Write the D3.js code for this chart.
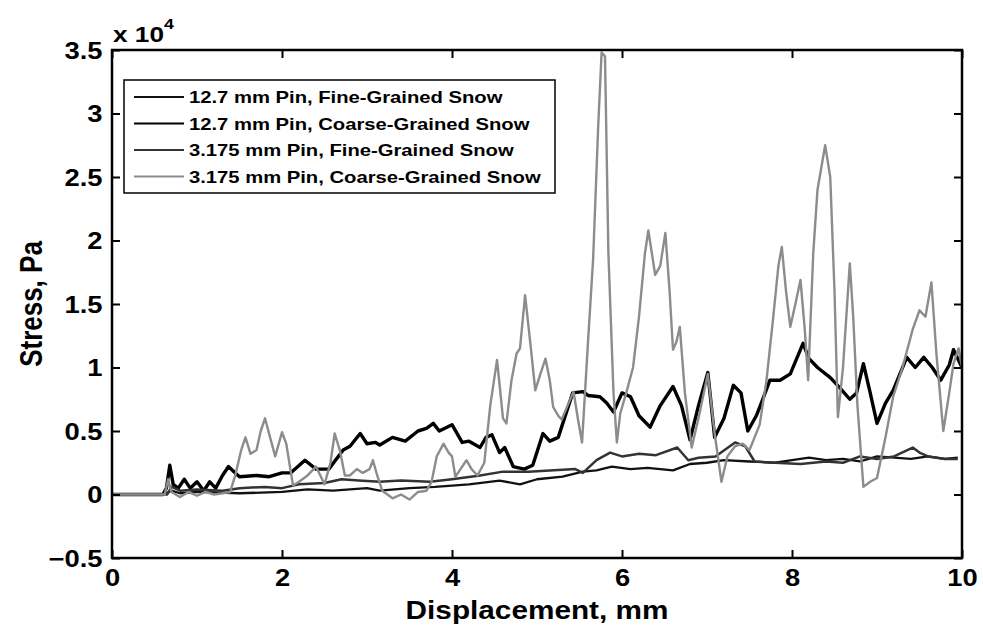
<!DOCTYPE html>
<meta charset="utf-8">
<body style="margin:0;background:#fff">
<script src="https://d3js.org/d3.v7.min.js"></script>
<script>

  // displacement (mm), stress (x 10^4 Pa)
  let fine127 = [[0,0],[0.6,0],[0.7,0.03],[0.8,0.01],[1.0,0.02],[1.5,0.01],[2.0,0.02],[2.3,0.04],[2.6,0.03],[3.0,0.05],[3.15,0.03],[3.5,0.05],[3.8,0.06],[4.2,0.08],[4.56,0.11],[4.8,0.08],[5.0,0.12],[5.3,0.14],[5.54,0.18],[5.7,0.19],[5.88,0.22],[6.1,0.2],[6.3,0.21],[6.6,0.19],[6.8,0.24],[7.0,0.25],[7.2,0.27],[7.5,0.26],[7.8,0.25],[8.0,0.27],[8.2,0.29],[8.4,0.27],[8.6,0.28],[8.8,0.26],[9.0,0.3],[9.2,0.29],[9.4,0.28],[9.6,0.3],[9.8,0.28],[9.95,0.29]];

  let coarse127 = [[0,0],[0.6,0],[0.64,0.05],[0.68,0.23],[0.72,0.08],[0.78,0.05],[0.85,0.12],[0.92,0.05],[1.0,0.1],[1.08,0.03],[1.15,0.1],[1.22,0.05],[1.3,0.15],[1.37,0.22],[1.45,0.17],[1.5,0.14],[1.7,0.15],[1.85,0.14],[2.0,0.17],[2.1,0.17],[2.27,0.27],[2.4,0.2],[2.55,0.2],[2.72,0.35],[2.8,0.38],[2.92,0.48],[3.0,0.4],[3.1,0.41],[3.15,0.39],[3.3,0.45],[3.45,0.42],[3.6,0.5],[3.7,0.52],[3.78,0.56],[3.85,0.5],[4.0,0.55],[4.12,0.41],[4.2,0.42],[4.33,0.37],[4.4,0.45],[4.47,0.47],[4.56,0.33],[4.62,0.37],[4.72,0.22],[4.85,0.2],[4.95,0.23],[5.07,0.48],[5.15,0.42],[5.25,0.45],[5.42,0.8],[5.54,0.81],[5.6,0.78],[5.74,0.77],[5.82,0.72],[5.9,0.65],[6.0,0.8],[6.1,0.77],[6.2,0.62],[6.33,0.53],[6.45,0.7],[6.6,0.85],[6.7,0.7],[6.8,0.43],[6.9,0.7],[7.01,0.96],[7.09,0.45],[7.2,0.6],[7.31,0.86],[7.4,0.8],[7.48,0.5],[7.58,0.62],[7.65,0.74],[7.74,0.9],[7.86,0.9],[7.98,0.95],[8.13,1.19],[8.2,1.07],[8.3,1.0],[8.45,0.92],[8.55,0.85],[8.68,0.75],[8.76,0.8],[8.84,1.03],[8.92,0.8],[9.0,0.56],[9.1,0.72],[9.19,0.82],[9.35,1.08],[9.45,1.0],[9.55,1.08],[9.65,1.0],[9.75,0.9],[9.85,1.02],[9.9,1.14],[10,1.0]];

  let fine3175 = [[0,0],[0.65,0],[0.7,0.06],[0.8,0.03],[1.0,0.04],[1.3,0.03],[1.5,0.05],[1.8,0.06],[2.0,0.05],[2.2,0.08],[2.5,0.09],[2.7,0.12],[2.9,0.11],[3.15,0.1],[3.4,0.11],[3.74,0.1],[4.0,0.12],[4.33,0.15],[4.6,0.18],[4.9,0.18],[5.2,0.19],[5.45,0.2],[5.54,0.17],[5.7,0.27],[5.86,0.33],[6.0,0.3],[6.2,0.32],[6.4,0.31],[6.65,0.37],[6.78,0.27],[6.9,0.29],[7.1,0.3],[7.33,0.41],[7.45,0.38],[7.56,0.26],[7.8,0.25],[8.1,0.24],[8.4,0.26],[8.6,0.25],[8.8,0.3],[9.0,0.28],[9.2,0.3],[9.42,0.37],[9.5,0.33],[9.6,0.3],[9.8,0.28],[9.95,0.28]];

  let coarse3175 = [[0,0],[0.62,0],[0.66,0.12],[0.7,0.02],[0.8,-0.02],[0.9,0.02],[1.0,-0.01],[1.1,0.02],[1.2,0],[1.3,0.01],[1.39,0.02],[1.45,0.15],[1.52,0.35],[1.57,0.45],[1.63,0.32],[1.7,0.35],[1.75,0.5],[1.8,0.6],[1.86,0.45],[1.92,0.3],[2.0,0.49],[2.05,0.4],[2.13,0.07],[2.2,0.1],[2.3,0.15],[2.4,0.22],[2.5,0.08],[2.57,0.25],[2.62,0.48],[2.68,0.35],[2.74,0.15],[2.8,0.15],[2.88,0.2],[2.95,0.17],[3.03,0.2],[3.07,0.27],[3.12,0.15],[3.18,0.03],[3.3,-0.03],[3.4,0],[3.5,-0.04],[3.6,0.02],[3.7,0.03],[3.76,0.1],[3.82,0.3],[3.9,0.4],[3.96,0.33],[4.0,0.3],[4.04,0.14],[4.1,0.2],[4.17,0.27],[4.23,0.2],[4.3,0.15],[4.38,0.25],[4.45,0.7],[4.53,1.06],[4.6,0.6],[4.64,0.56],[4.7,0.9],[4.76,1.11],[4.8,1.15],[4.86,1.57],[4.92,1.2],[4.98,0.82],[5.04,0.95],[5.1,1.07],[5.15,0.9],[5.19,0.69],[5.25,0.62],[5.29,0.59],[5.36,0.7],[5.43,0.81],[5.48,0.6],[5.53,0.41],[5.6,1.2],[5.66,1.85],[5.72,2.9],[5.76,3.48],[5.8,3.45],[5.84,1.9],[5.9,0.8],[5.94,0.41],[5.98,0.64],[6.05,0.8],[6.13,1.0],[6.2,1.4],[6.27,1.9],[6.31,2.08],[6.39,1.73],[6.45,1.8],[6.51,2.06],[6.56,1.6],[6.6,1.14],[6.64,1.2],[6.68,1.32],[6.74,0.8],[6.82,0.37],[6.9,0.6],[7.01,0.95],[7.09,0.48],[7.17,0.1],[7.24,0.3],[7.33,0.38],[7.42,0.4],[7.5,0.35],[7.56,0.45],[7.62,0.55],[7.7,0.9],[7.78,1.4],[7.84,1.8],[7.88,1.95],[7.93,1.6],[7.98,1.32],[8.04,1.5],[8.1,1.69],[8.15,1.3],[8.19,0.9],[8.25,1.9],[8.3,2.4],[8.39,2.75],[8.45,2.5],[8.5,1.6],[8.54,0.61],[8.6,1.0],[8.68,1.82],[8.72,1.4],[8.77,0.7],[8.84,0.06],[8.92,0.1],[9.0,0.13],[9.1,0.45],[9.19,0.77],[9.3,1.0],[9.42,1.3],[9.5,1.45],[9.57,1.4],[9.64,1.67],[9.7,1.1],[9.78,0.5],[9.85,0.8],[9.9,1.03],[9.96,1.15],[10,1.0]];

  let seriesNames = ["12.7 mm Pin, Fine-Grained Snow", "12.7 mm Pin, Coarse-Grained Snow",
    "3.175 mm Pin, Fine-Grained Snow", "3.175 mm Pin, Coarse-Grained Snow"];
  let seriesData = [fine127, coarse127, fine3175, coarse3175];
  let seriesColor = ["#111", "#000", "#333", "#8c8c8c"];
  let seriesWidth = [2.3, 3.4, 2.5, 2.4];

  let xTicks = [0, 2, 4, 6, 8, 10];
  let yTicks = [-0.5, 0, 0.5, 1, 1.5, 2, 2.5, 3, 3.5];

  let width = 983, height = 628,
    mLeft = 112, mRight = 962, mTop = 50, mBottom = 558;
  let font = "'Liberation Sans', Arial, Helvetica, sans-serif";
  let stretch = 1.19; // the text in the figure is wider than it is tall

  let x = d3.scaleLinear().domain([0, 10]).range([mLeft, mRight]);
  let y = d3.scaleLinear().domain([-0.5, 3.5]).range([mBottom, mTop]);

  let svg = d3.select("body").append("svg")
    .attr("width", width)
    .attr("height", height)
    .style("font-family", font)
    .style("font-weight", "bold");

  svg.append("clipPath").attr("id", "clip")
    .append("rect").attr("x", mLeft).attr("y", mTop - 1)
    .attr("width", mRight - mLeft).attr("height", mBottom - mTop + 1);

  let line = d3.line().x(d => x(d[0])).y(d => y(d[1]));

  svg.append("g").attr("clip-path", "url(#clip)")
    .selectAll("path")
    .data(seriesData)
    .enter().append("path")
    .attr("d", line)
    .attr("fill", "none")
    .attr("stroke", (d, i) => seriesColor[i])
    .attr("stroke-width", (d, i) => seriesWidth[i])
    .attr("stroke-linejoin", "round");

  // axes, ticks inward on all four sides
  let tickLen = 8;
  let xb = svg.append("g").attr("transform", "translate(0," + mBottom + ")")
    .call(d3.axisBottom(x).tickValues(xTicks).tickSizeInner(-tickLen).tickSizeOuter(0).tickPadding(12).tickFormat(d3.format("d")));
  let xt = svg.append("g").attr("transform", "translate(0," + mTop + ")")
    .call(d3.axisTop(x).tickValues(xTicks).tickSizeInner(-tickLen).tickSizeOuter(0).tickFormat(""));
  let yl = svg.append("g").attr("transform", "translate(" + mLeft + ",0)")
    .call(d3.axisLeft(y).tickValues(yTicks).tickSizeInner(-tickLen).tickSizeOuter(0).tickPadding(8).tickFormat(d => d3.format("")(d)));
  let yr = svg.append("g").attr("transform", "translate(" + mRight + ",0)")
    .call(d3.axisRight(y).tickValues(yTicks).tickSizeInner(-tickLen).tickSizeOuter(0).tickFormat(""));

  [xb, xt, yl, yr].forEach(g => {
    g.select(".domain").remove();
    g.selectAll(".tick line").attr("stroke", "#000").attr("stroke-width", 2);
    g.selectAll("text").attr("fill", "#000").style("font-size", "23px")
      .style("font-family", font).style("font-weight", "bold")
      .attr("transform", "scale(" + stretch + ",1)");
  });
  yl.selectAll("text").attr("dy", "0.36em");

  svg.append("rect")
    .attr("x", mLeft).attr("y", mTop)
    .attr("width", mRight - mLeft).attr("height", mBottom - mTop)
    .attr("fill", "none").attr("stroke", "#000").attr("stroke-width", 2.5);

  // exponent label
  let ex = svg.append("text")
    .attr("transform", "translate(" + (mLeft + 1) + ",42) scale(" + stretch + ",1)")
    .style("font-size", "22px");
  ex.append("tspan").text("x 10");
  ex.append("tspan").attr("dy", -13).style("font-size", "15px").text("4");

  svg.append("text")
    .attr("transform", "translate(" + ((mLeft + mRight) / 2) + ",619) scale(" + stretch + ",1)")
    .attr("text-anchor", "middle")
    .style("font-size", "25px")
    .text("Displacement, mm");

  svg.append("text")
    .attr("transform", "translate(42," + ((mTop + mBottom) / 2) + ") rotate(-90) scale(1," + stretch + ")")
    .attr("text-anchor", "middle")
    .style("font-size", "26px")
    .text("Stress, Pa");

  // legend
  let lg = svg.append("g");
  lg.append("rect")
    .attr("x", 124).attr("y", 80).attr("width", 431).attr("height", 113)
    .attr("fill", "#fff").attr("stroke", "#000").attr("stroke-width", 1.5);

  let rows = lg.selectAll("g.row")
    .data(seriesNames)
    .enter().append("g")
    .attr("transform", (d, i) => "translate(0," + (97 + i * 26.5) + ")");

  rows.append("line")
    .attr("x1", 134).attr("x2", 184)
    .attr("stroke", (d, i) => seriesColor[i])
    .attr("stroke-width", 2);

  rows.append("text")
    .attr("transform", "translate(189,0) scale(" + stretch + ",1)")
    .attr("dy", "0.36em")
    .style("font-size", "17px")
    .text(d => d);

</script>
